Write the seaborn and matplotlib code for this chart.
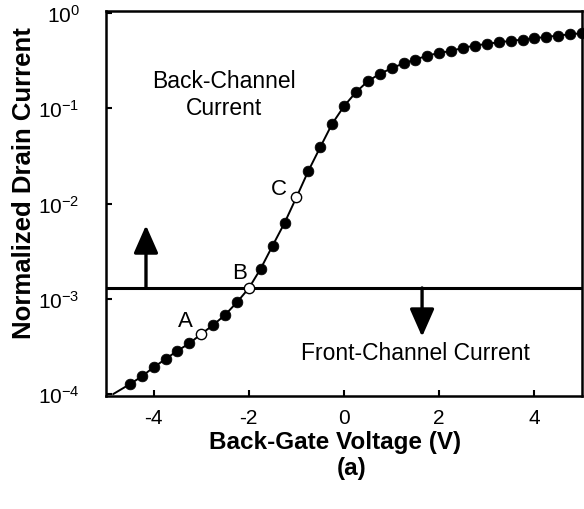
import numpy as np
import pandas as pd
import matplotlib
matplotlib.use("Agg")
import matplotlib.pyplot as plt
import seaborn as sns

# ---- data ----
vbg = [-4.5, -4.25, -4.0, -3.75, -3.5, -3.25, -3.0, -2.75, -2.5, -2.25,
       -2.0, -1.75, -1.5, -1.25, -1.0, -0.75, -0.5, -0.25, 0.0, 0.25,
       0.5, 0.75, 1.0, 1.25, 1.5, 1.75, 2.0, 2.25, 2.5, 2.75,
       3.0, 3.25, 3.5, 3.75, 4.0, 4.25, 4.5, 4.75, 5.0]
current = [1.27e-4, 1.53e-4, 1.91e-4, 2.33e-4, 2.85e-4, 3.40e-4, 4.27e-4, 5.30e-4, 6.76e-4, 9.18e-4,
           1.29e-3, 2.07e-3, 3.61e-3, 6.24e-3, 1.16e-2, 2.19e-2, 3.89e-2, 6.84e-2, 0.105, 0.147,
           0.192, 0.229, 0.262, 0.296, 0.324, 0.356, 0.380, 0.399, 0.430, 0.454,
           0.473, 0.492, 0.508, 0.525, 0.542, 0.560, 0.578, 0.597, 0.612]
curve_start_v = [-4.85]
curve_start_i = [1.0e-4]
open_points = [-3.0, -2.0, -1.0]
point_labels = ["A", "B", "C"]
label_pos_v = [-3.34, -2.19, -1.36]
label_pos_i = [5.9e-4, 1.9e-3, 1.45e-2]
threshold = 1.3e-3
xticks = [-4, -2, 0, 2, 4]
ytick_exps = [0, -1, -2, -3, -4]

df = pd.DataFrame({"V": vbg, "I": current})
df["open"] = df["V"].isin(open_points)
curve = pd.DataFrame({"V": curve_start_v + vbg, "I": curve_start_i + current})

sns.set_theme(style="ticks")
plt.rcParams["font.family"] = ["Liberation Sans", "DejaVu Sans"]
plt.rcParams["mathtext.fontset"] = "custom"
plt.rcParams["mathtext.rm"] = "Liberation Sans"
plt.rcParams["mathtext.default"] = "regular"
plt.rcParams["text.color"] = "black"

fig = plt.figure(figsize=(5.84, 5.10), dpi=100)
ax = fig.add_axes([106/584, 1-397/510, 476/584, 385/510])

sns.lineplot(data=curve, x="V", y="I", ax=ax, color="black", lw=1.4, sort=True)
sns.scatterplot(data=df[~df["open"]], x="V", y="I", ax=ax, color="black",
                s=60, edgecolor="black", linewidth=0.5, zorder=3, clip_on=False)
sns.scatterplot(data=df[df["open"]], x="V", y="I", ax=ax, color="white",
                s=55, edgecolor="black", linewidth=1.0, zorder=4)

ax.set_yscale("log")
ax.set_xlim(-5, 5)
ax.set_ylim(10**-4.02, 10**0.02)
ax.set_xticks(xticks)
ax.set_xticklabels([str(t) for t in xticks])
ax.set_yticks([10.0**e for e in ytick_exps])
ax.set_yticklabels([r"$10^{%d}$" % e for e in ytick_exps])
ax.yaxis.set_minor_locator(matplotlib.ticker.NullLocator())
ax.tick_params(axis="both", direction="in", length=4, width=1.5, labelsize=15,
               colors="black", labelcolor="black")
ax.tick_params(axis="y", pad=19)
ax.tick_params(axis="x", pad=9, labelsize=15)
for s in ax.spines.values():
    s.set_visible(True)
    s.set_linewidth(1.8)
    s.set_color("black")
ax.set_xlabel("")
ax.set_ylabel("")

ax.axhline(threshold, color="black", lw=2.2, zorder=2)

arrow_kw = dict(arrowstyle="-|>,head_length=1.7,head_width=0.75", mutation_scale=10,
                color="black", lw=2.4, shrinkA=0, shrinkB=0)
ax.annotate("", xy=(-4.16, 5.9e-3), xytext=(-4.16, threshold), arrowprops=arrow_kw)
ax.annotate("", xy=(1.64, 4.0e-4), xytext=(1.64, threshold), arrowprops=arrow_kw)

for lab, lv, li in zip(point_labels, label_pos_v, label_pos_i):
    ax.text(lv, li, lab, fontsize=16, ha="center", va="center", color="black")

ax.text(-2.52, 0.14, "Back-Channel\nCurrent", fontsize=16.5, ha="center", va="center",
        linespacing=1.2, color="black")
ax.text(1.51, 2.7e-4, "Front-Channel Current", fontsize=16.5, ha="center", va="center",
        color="black")

fig.text(24/584, 1-183/510, "Normalized Drain Current", rotation=90, fontsize=18.5,
         fontweight="bold", ha="center", va="center", color="black")
fig.text(335/584, 1-443/510, "Back-Gate Voltage (V)", fontsize=17.5,
         fontweight="bold", ha="center", va="center", color="black")
fig.text(352/584, 1-469/510, "(a)", fontsize=17.5, fontweight="bold", ha="center",
         va="center", color="black")

fig.savefig("out.png", dpi=100)
